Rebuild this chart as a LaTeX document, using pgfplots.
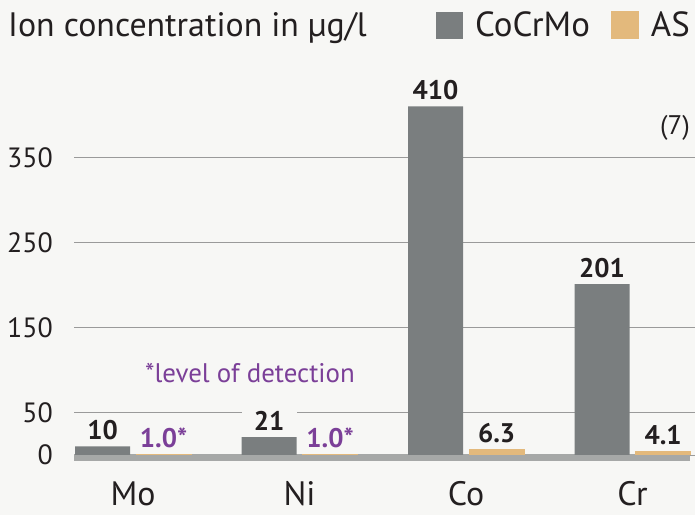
\documentclass[border=0pt]{standalone}
\usepackage{pgfplots}
\pgfplotsset{compat=1.18}
\usepackage{fontspec}
\setmainfont{PT Sans}
\definecolor{bg}{HTML}{F7F7F5}
\definecolor{barg}{HTML}{7A7E7F}
\definecolor{tanc}{HTML}{E3B97C}
\definecolor{lblp}{HTML}{7B3F98}
\definecolor{txt}{HTML}{231F20}
\definecolor{gridc}{HTML}{9A9A9A}
\definecolor{basec}{HTML}{A6A8A7}
\begin{document}
\begin{tikzpicture}[x=1bp,y=1bp]
\useasboundingbox (0,0) rectangle (695,515);
\fill[bg] (0,0) rectangle (695,515);
\begin{axis}[
  at={(74bp,60bp)}, anchor=south west,
  scale only axis, width=621bp, height=382.5bp,
  xmin=-0.355, xmax=3.375, ymin=0, ymax=450,
  clip=false,
  axis line style={draw=none},
  major tick length=0pt,
  xtick={0,1,2,3}, xticklabels={Mo,Ni,Co,Cr},
  ytick={0,50,150,250,350},
  ymajorgrids, grid style={gridc, line width=0.9bp},
  /pgf/number format/assume math mode=true,
  yticklabel style={anchor=east, inner sep=0pt, xshift=-21bp, text=txt, font=\fontsize{28}{30}\selectfont},
  xticklabel style={anchor=base, inner sep=0pt, yshift=-51bp, text=txt, font=\fontsize{34}{36}\selectfont},
  ybar=6bp, bar width=55bp,
  nodes near coords={\pgfplotspointmeta},
  point meta=explicit symbolic,
  every node near coord/.append style={font=\bfseries\fontsize{27}{30}\selectfont, text=txt, fill=bg, minimum width=55bp, inner sep=2bp, anchor=south, yshift=4bp},
  legend columns=2,
  legend style={at={(axis description cs:0.992,1.124)}, anchor=east, draw=none, fill=none,
    inner sep=0pt, column sep=0pt, row sep=0pt, nodes={inner sep=0pt},
    font=\fontsize{35}{37}\selectfont, text=txt},
  legend image code/.code={\path (-21bp,0) (39bp,0); \fill[#1] (0bp,-13.5bp) rectangle (27bp,13.5bp);},
]
\fill[basec] (axis cs:-0.355,0.6) rectangle (axis cs:3.345,-6.5);
\addplot[fill=barg, draw=none] coordinates {(0,10) [10] (1,21) [21] (2,410) [410] (3,201) [201]};
\addlegendentry{CoCrMo}
\addplot[fill=tanc, draw=tanc, line width=1bp] coordinates {(0,1.0) [{\textcolor{lblp}{1.0*}}] (1,1.0) [{\textcolor{lblp}{1.0*}}] (2,6.3) [6.3] (3,4.1) [4.1]};
\addlegendentry{AS}
\end{axis}
\node[anchor=base west, inner sep=0pt, text=txt, font=\fontsize{34}{36}\selectfont] at (8,478) {Ion concentration in µg/l};
\node[anchor=base east, inner sep=0pt, text=txt, font=\fontsize{27}{30}\selectfont] at (690,380) {(7)};
\node[anchor=base west, inner sep=0pt, text=lblp, font=\fontsize{27}{29}\selectfont] at (145,132) {*level of detection};
\end{tikzpicture}
\end{document}
